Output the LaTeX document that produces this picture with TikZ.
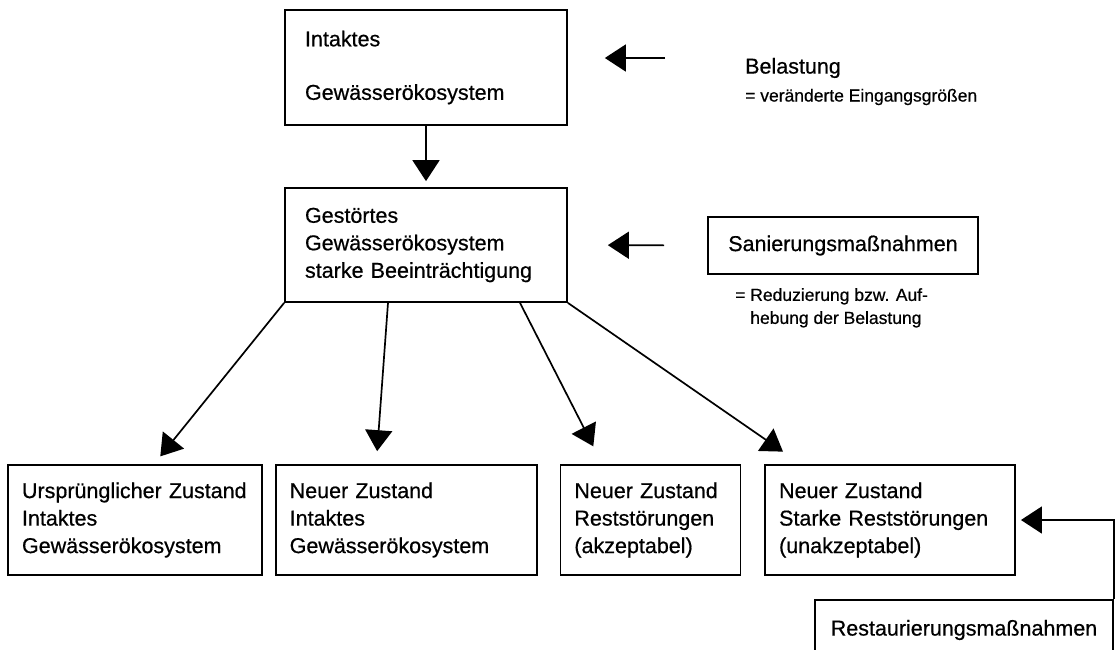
\documentclass[tikz,border=0pt]{standalone}
\usepackage{fontspec}
\setmainfont{Liberation Sans}[FakeBold=0.6]
\usetikzlibrary{arrows.meta,positioning}
\newcommand{\boxfont}{\fontsize{21.5}{27.5}\selectfont}
\newcommand{\notefont}{\fontsize{17.5}{23}\selectfont}
\tikzset{
  statebox/.style={draw, line width=1.7pt, inner xsep=14pt, inner ysep=0pt,
    minimum height=110pt, align=left, font=\boxfont},
  topbox/.style={statebox, inner xsep=20pt, text width=242pt},
  measure/.style={draw, line width=1.7pt, minimum width=270pt,
    minimum height=57pt, font=\boxfont},
  remark/.style={anchor=west, inner sep=0pt, align=left, font=\notefont},
  arrow/.style={-{Triangle[length=21pt,width=27pt]}, line width=1.7pt}
}

\begin{document}
\begin{tikzpicture}[x=1pt,y=-1pt]
  \useasboundingbox (0,0) rectangle (1119,649);
  \clip (0,0) rectangle (1119,649);

  % Oben: Ausgangszustand und Belastung
  \node[topbox, minimum height=115pt] (intakt) at (426,67.5) {
    Intaktes\\[26pt]
    Gewässerökosystem
  };
  \node[font=\boxfont, anchor=west, inner sep=0pt] (belastung) at (745,68) {Belastung};
  \node[remark] (belnote) at (745,97) {= veränderte Eingangsgrößen};

  % Mitte: gestörtes System und Sanierung
  \node[topbox, minimum height=114pt] (gestoert) at (426,245) {
    Gestörtes\\
    Gewässerökosystem\\
    starke Beeinträchtigung
  };
  \node[measure] (sanierung) at (843,245.5) {Sanierungsmaßnahmen};
  \node[remark, anchor=north west] (sannote) at (735,288) {
    = Reduzierung bzw. Auf-\\
    \hphantom{= }hebung der Belastung
  };

  % Unten: mögliche Zustände
  \node[statebox, text width=226pt] (urspr) at (135,520) {
    Ursprünglicher Zustand\\
    Intaktes\\
    Gewässerökosystem
  };
  \node[statebox, text width=233pt, right=12pt of urspr] (neu) {
    Neuer Zustand\\
    Intaktes\\
    Gewässerökosystem
  };
  \node[statebox, text width=152pt, right=22pt of neu] (akzept) {
    Neuer Zustand\\
    Reststörungen\\
    (akzeptabel)
  };
  \node[statebox, text width=222pt, right=23pt of akzept] (unakzept) {
    Neuer Zustand\\
    Starke Reststörungen\\
    (unakzeptabel)
  };
  \node[measure, minimum width=298pt, minimum height=60pt] (restaur) at (964,630) {Restaurierungsmaßnahmen};

  % Pfeile
  \coordinate (belfrom) at (665,58);
  \draw[arrow, shorten >=37pt] (belfrom) -- (belfrom -| intakt.east);
  \draw[arrow, shorten >=6pt] (intakt) -- (gestoert);
  \draw[arrow, shorten <=43pt, shorten >=40pt] (sanierung.west) -- (gestoert.east);

  \draw[arrow, shorten >=10pt] (gestoert.south west) -- ([xshift=19pt]urspr.north);
  \draw[arrow, shorten >=13pt] ([xshift=-38pt]gestoert.south) -- ([xshift=-30pt]neu.north);
  \draw[arrow, shorten >=20pt] ([xshift=94pt]gestoert.south) -- ([xshift=-48pt]akzept.north);
  \draw[arrow, shorten >=22pt] (gestoert.south east) -- ([xshift=-89pt]unakzept.north);
  \draw[arrow, shorten >=5pt] (restaur.north east) |- (unakzept.east);
\end{tikzpicture}
\end{document}
